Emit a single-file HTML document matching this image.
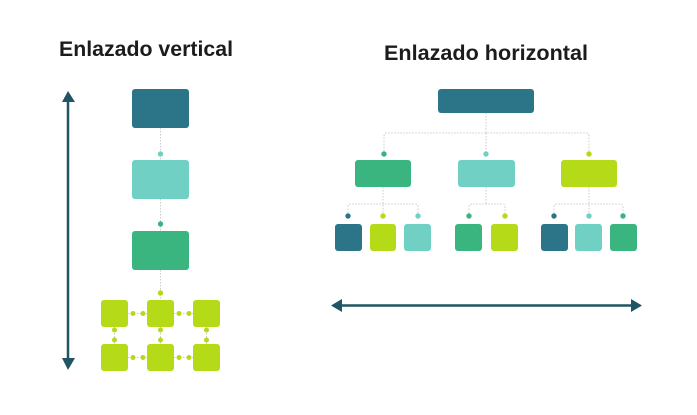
<!DOCTYPE html>
<html><head><meta charset="utf-8"><style>
html,body{margin:0;padding:0;background:#fff;}
svg{display:block;}
</style></head><body>
<svg width="697" height="415" viewBox="0 0 697 415" xmlns="http://www.w3.org/2000/svg">
<rect width="697" height="415" fill="#fff"/>
<g font-family="'Liberation Sans', sans-serif" font-weight="bold" font-size="21" fill="#1c1c1c">
<text x="59" y="56" textLength="174" lengthAdjust="spacingAndGlyphs">Enlazado vertical</text>
<text x="384" y="60" textLength="204" lengthAdjust="spacingAndGlyphs">Enlazado horizontal</text>
</g>
<!-- vertical arrow -->
<line x1="68" y1="100" x2="68" y2="360" stroke="#1f5564" stroke-width="2.5"/>
<polygon points="68,91 62,102 75,102" fill="#1f5564"/>
<polygon points="68,370 62,358 75,358" fill="#1f5564"/>
<!-- vertical dotted connectors -->
<g stroke="#cccccc" stroke-width="1" stroke-dasharray="1.5 1.5" fill="none">
<line x1="160.5" y1="128" x2="160.5" y2="160"/>
<line x1="160.5" y1="199" x2="160.5" y2="231"/>
<line x1="160.5" y1="270" x2="160.5" y2="300"/>
<line x1="128" y1="313.5" x2="147" y2="313.5"/>
<line x1="174" y1="313.5" x2="193" y2="313.5"/>
<line x1="128" y1="357.5" x2="147" y2="357.5"/>
<line x1="174" y1="357.5" x2="193" y2="357.5"/>
<line x1="114.5" y1="327" x2="114.5" y2="344"/>
<line x1="160.5" y1="327" x2="160.5" y2="344"/>
<line x1="206.5" y1="327" x2="206.5" y2="344"/>
</g>
<rect x="132" y="89" width="57" height="39" rx="3" fill="#2c7589"/>
<circle cx="160.5" cy="154" r="2.7" fill="#70d0c3"/>
<rect x="132" y="160" width="57" height="39" rx="3" fill="#70d0c3"/>
<circle cx="160.5" cy="224" r="2.7" fill="#3bb57f"/>
<rect x="132" y="231" width="57" height="39" rx="3" fill="#3bb57f"/>
<circle cx="160.5" cy="293" r="2.7" fill="#b5da18"/>
<g fill="#b5da18">
<rect x="101" y="300" width="27" height="27" rx="3"/>
<rect x="147" y="300" width="27" height="27" rx="3"/>
<rect x="193" y="300" width="27" height="27" rx="3"/>
<rect x="101" y="344" width="27" height="27" rx="3"/>
<rect x="147" y="344" width="27" height="27" rx="3"/>
<rect x="193" y="344" width="27" height="27" rx="3"/>
<circle cx="133" cy="313.5" r="2.5"/><circle cx="143" cy="313.5" r="2.5"/>
<circle cx="179" cy="313.5" r="2.5"/><circle cx="189" cy="313.5" r="2.5"/>
<circle cx="133" cy="357.5" r="2.5"/><circle cx="143" cy="357.5" r="2.5"/>
<circle cx="179" cy="357.5" r="2.5"/><circle cx="189" cy="357.5" r="2.5"/>
<circle cx="114.5" cy="330" r="2.5"/><circle cx="114.5" cy="340" r="2.5"/>
<circle cx="160.5" cy="330" r="2.5"/><circle cx="160.5" cy="340" r="2.5"/>
<circle cx="206.5" cy="330" r="2.5"/><circle cx="206.5" cy="340" r="2.5"/>
</g>
<!-- horizontal tree connectors -->
<g stroke="#cccccc" stroke-width="1" stroke-dasharray="1.5 1.5" fill="none">
<line x1="486" y1="113" x2="486" y2="133"/>
<path d="M384,154 V136 Q384,133 387,133 H586 Q589,133 589,136 V154"/>
<line x1="486" y1="133" x2="486" y2="154"/>
<line x1="383" y1="187" x2="383" y2="216"/>
<path d="M348,216 V207 Q348,204 351,204 H415 Q418,204 418,207 V216"/>
<line x1="486" y1="187" x2="486" y2="204"/>
<path d="M469,216 V207 Q469,204 472,204 H502 Q505,204 505,207 V216"/>
<line x1="589" y1="187" x2="589" y2="216"/>
<path d="M554,216 V207 Q554,204 557,204 H620 Q623,204 623,207 V216"/>
</g>
<rect x="438" y="89" width="96" height="24" rx="3" fill="#2c7589"/>
<circle cx="384" cy="154" r="2.7" fill="#3bb57f"/>
<circle cx="486" cy="154" r="2.7" fill="#70d0c3"/>
<circle cx="589" cy="154" r="2.7" fill="#b5da18"/>
<rect x="355" y="160" width="56" height="27" rx="3" fill="#3bb57f"/>
<rect x="458" y="160" width="57" height="27" rx="3" fill="#70d0c3"/>
<rect x="561" y="160" width="56" height="27" rx="3" fill="#b5da18"/>
<circle cx="348" cy="216" r="2.7" fill="#2c7589"/>
<circle cx="383" cy="216" r="2.7" fill="#b5da18"/>
<circle cx="418" cy="216" r="2.7" fill="#70d0c3"/>
<circle cx="469" cy="216" r="2.7" fill="#3bb57f"/>
<circle cx="505" cy="216" r="2.7" fill="#b5da18"/>
<circle cx="554" cy="216" r="2.7" fill="#2c7589"/>
<circle cx="589" cy="216" r="2.7" fill="#70d0c3"/>
<circle cx="623" cy="216" r="2.7" fill="#3bb57f"/>
<rect x="335" y="224" width="27" height="27" rx="3" fill="#2c7589"/>
<rect x="370" y="224" width="26" height="27" rx="3" fill="#b5da18"/>
<rect x="404" y="224" width="27" height="27" rx="3" fill="#70d0c3"/>
<rect x="455" y="224" width="27" height="27" rx="3" fill="#3bb57f"/>
<rect x="491" y="224" width="27" height="27" rx="3" fill="#b5da18"/>
<rect x="541" y="224" width="27" height="27" rx="3" fill="#2c7589"/>
<rect x="575" y="224" width="27" height="27" rx="3" fill="#70d0c3"/>
<rect x="610" y="224" width="27" height="27" rx="3" fill="#3bb57f"/>
<!-- horizontal arrow -->
<line x1="338" y1="305.5" x2="635" y2="305.5" stroke="#1f5564" stroke-width="2.5"/>
<polygon points="331,305.5 342,299 342,312" fill="#1f5564"/>
<polygon points="642,305.5 631,299 631,312" fill="#1f5564"/>
</svg>
</body></html>
